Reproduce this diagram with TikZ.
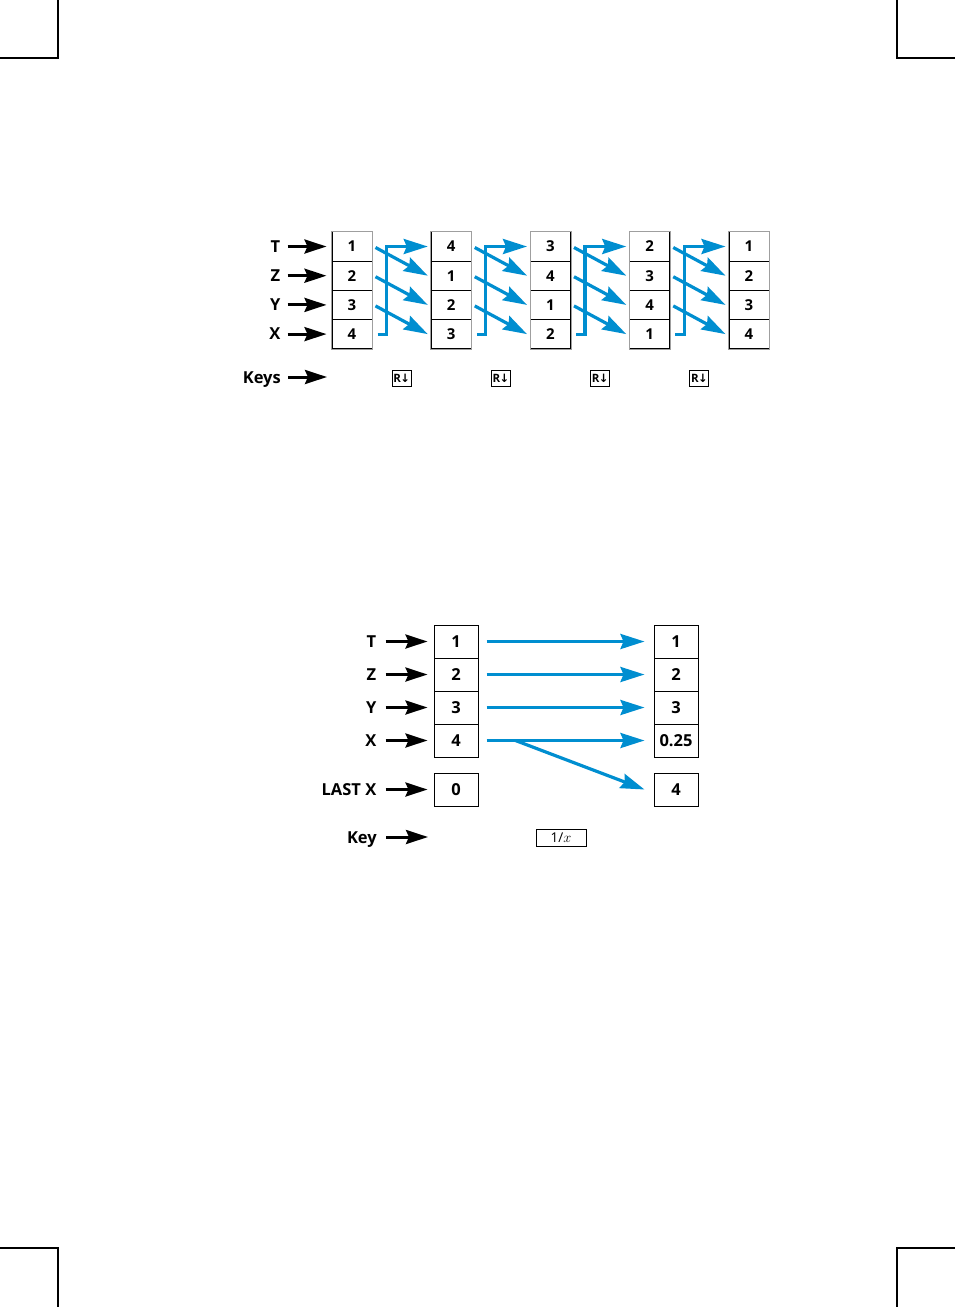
\documentclass[tikz,border=0pt]{standalone}
\usepackage{fontspec}
\setmainfont{Open Sans}
\newfontfamily\symbfont{DejaVu Sans}
\usetikzlibrary{arrows.meta, positioning, calc}
\definecolor{hpblue}{RGB}{0,142,208}

\tikzset{
  cell/.style={draw=black, line width=1pt, minimum width=40pt, minimum height=29.2pt,
               inner sep=0pt, font=\fontsize{15}{15}\selectfont\bfseries},
  bigcell/.style={cell, minimum width=44pt, minimum height=33pt,
                  font=\fontsize{16.5}{16.5}\selectfont\bfseries},
  lbl/.style={inner sep=0pt, font=\fontsize{16.5}{16.5}\selectfont\bfseries},
  feed/.style={line width=3pt, -{Stealth[length=22pt,width=14pt,inset=3pt]}},
  roll/.style={hpblue, line width=3.2pt, -{Stealth[length=24pt,width=15pt,inset=3pt]}},
  keycap/.style={draw, line width=0.9pt, inner sep=1.2pt, minimum width=19pt, minimum height=16pt},
  crop/.style={line width=1.2pt}
}

\begin{document}
\begin{tikzpicture}[x=1pt, y=-1pt]
\useasboundingbox (0,0) rectangle (955,1307);

% crop marks
\draw[crop] (58,0) -- (58,58) -- (0,58);
\draw[crop] (897,0) -- (897,58) -- (955,58);
\draw[crop] (58,1307) -- (58,1248) -- (0,1248);
\draw[crop] (897,1307) -- (897,1248) -- (955,1248);

% ---- R-down: five stacks
\foreach \c/\vals in {0/{1,2,3,4}, 1/{4,1,2,3}, 2/{3,4,1,2}, 3/{2,3,4,1}, 4/{1,2,3,4}}{
  \pgfmathsetmacro{\x}{352+99.25*\c}
  \foreach \v [count=\r] in \vals{
    \pgfmathsetmacro{\y}{246.5+29.2*(\r-1)}
    \node[cell] (s\c-\r) at (\x,\y) {\v};
  }
  \draw[gray!75, line width=1pt] (s\c-1.north west) rectangle (s\c-4.south east);
}

\foreach \c [evaluate=\c as \n using int(\c+1)] in {0,...,3}{
  \foreach \r [evaluate=\r as \q using int(\r+1)] in {1,2,3}
    \draw[roll] ([xshift=3pt,yshift=-1pt]s\c-\r.east) -- ([xshift=-3pt]s\n-\q.west);
  \draw[roll] ([xshift=5pt]s\c-4.east) -- ++(9,0) |- ([xshift=-3pt]s\n-1.west);
  \node[keycap] (k\c) at ($(s\c-4.east)!0.5!(s\n-4.west) + (0,44)$)
    {\fontsize{11.5}{11.5}\selectfont\bfseries R\kern-0.5pt\symbfont\bfseries ↓};
}

\foreach \l [count=\r] in {T,Z,Y,X}{
  \coordinate (a\r) at ([xshift=-44pt]s0-\r.west);
  \draw[feed] (a\r) -- ([xshift=-5pt]s0-\r.west);
  \node[lbl, left=7pt of a\r] (t\r) {\l};
}
\coordinate (keysa) at (288,377);
\coordinate (keysb) at (327,377);
\draw[feed] (keysa) -- (keysb);
\node[lbl, left=7pt of keysa, yshift=-3pt] (keys) {Keys};

% ---- 1/x with LAST X
\foreach \v [count=\r] in {1,2,3,4}{
  \pgfmathsetmacro{\y}{641.5+33*(\r-1)}
  \node[bigcell] (L\r) at (456,\y) {\v};
}
\foreach \v [count=\r] in {1,2,3,0.25}{
  \pgfmathsetmacro{\y}{641.5+33*(\r-1)}
  \node[bigcell] (R\r) at (676,\y) {\v};
}
\node[bigcell] (Llx) at (456,789.5) {0};
\node[bigcell] (Rlx) at (676,789.5) {4};

\foreach \r in {1,...,4}
  \draw[roll] ([xshift=8pt]L\r.east) -- ([xshift=-9pt]R\r.west);
\coordinate (fork) at ([xshift=37pt]L4.east);
\draw[roll] (fork) -- ([xshift=-9pt]Rlx.west);

\foreach \l/\n in {T/L1, Z/L2, Y/L3, X/L4, LAST X/Llx}{
  \coordinate (b\n) at ([xshift=-48pt]\n.west);
  \draw[feed] (b\n) -- ([xshift=-6pt]\n.west);
  \node[lbl, left=9pt of b\n] (u\n) {\l};
}
\coordinate (keya) at (386,837);
\coordinate (keyb) at (428,837);
\draw[feed] (keya) -- (keyb);
\node[lbl, left=9pt of keya, yshift=-3pt] (key) {Key};
\node[draw, line width=0.9pt, minimum width=50pt, minimum height=17pt, inner sep=0pt,
      font=\fontsize{13.5}{13.5}\selectfont] (inv) at (561,837.5) {1/$x$};
\end{tikzpicture}
\end{document}
